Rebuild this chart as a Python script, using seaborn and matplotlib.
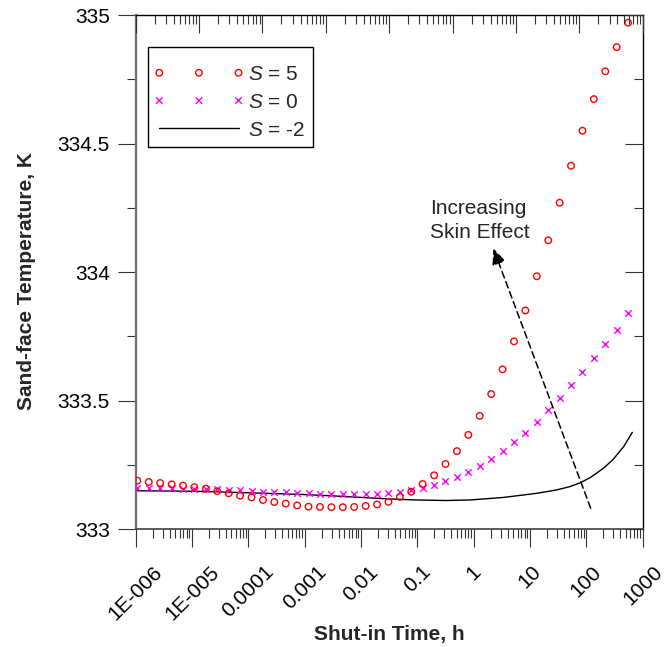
import matplotlib
matplotlib.use("Agg")
import matplotlib.pyplot as plt
import seaborn as sns
from matplotlib.ticker import LogLocator, MultipleLocator, NullFormatter
from matplotlib.collections import PathCollection
from matplotlib.lines import Line2D
from matplotlib.legend_handler import HandlerPathCollection, HandlerLine2D

# Shut-in times (h) at which the sand-face temperature was sampled
shut_in_time_h = [1.07e-6, 1.71e-6, 2.72e-6, 4.35e-6, 6.92e-6, 1.10e-5, 1.76e-5,
                  2.81e-5, 4.48e-5, 7.13e-5, 1.14e-4, 1.82e-4, 2.89e-4, 4.61e-4,
                  7.35e-4, 1.17e-3, 1.87e-3, 2.98e-3, 4.75e-3, 7.57e-3, 1.21e-2,
                  1.93e-2, 3.07e-2, 4.90e-2, 7.80e-2, 0.124, 0.199, 0.316, 0.505,
                  0.804, 1.28, 2.05, 3.26, 5.20, 8.28, 13.2, 21.1, 33.6, 53.5,
                  85.4, 136, 217, 346, 552]

# Sand-face temperature (K), skin factor S = 5
temp_skin_5 = [333.189, 333.184, 333.180, 333.175, 333.170, 333.164, 333.158,
               333.148, 333.140, 333.131, 333.124, 333.114, 333.106, 333.100,
               333.093, 333.088, 333.087, 333.086, 333.086, 333.087, 333.091,
               333.097, 333.107, 333.126, 333.146, 333.176, 333.210, 333.254,
               333.304, 333.367, 333.441, 333.526, 333.622, 333.731, 333.851,
               333.984, 334.124, 334.270, 334.414, 334.550, 334.673, 334.781,
               334.875, 334.970]

# Sand-face temperature (K), skin factor S = 0
temp_skin_0 = [333.162, 333.161, 333.160, 333.159, 333.158, 333.157, 333.156,
               333.155, 333.153, 333.151, 333.149, 333.147, 333.145, 333.144,
               333.142, 333.140, 333.139, 333.138, 333.137, 333.137, 333.137,
               333.138, 333.141, 333.146, 333.154, 333.161, 333.173, 333.187,
               333.203, 333.223, 333.246, 333.273, 333.303, 333.338, 333.376,
               333.417, 333.463, 333.510, 333.560, 333.612, 333.665, 333.720,
               333.776, 333.842]

# Sand-face temperature (K), skin factor S = -2 (continuous curve)
line_time_h = [1e-6, 1e-5, 2.5e-5, 1e-4, 8e-4, 3.2e-3, 1e-2, 3.2e-2, 0.1, 0.32,
               0.85, 3.4, 13.2, 29.5, 51, 78, 117, 200, 300, 458, 655]
temp_skin_m2 = [333.150, 333.148, 333.146, 333.142, 333.136, 333.130, 333.124,
                333.118, 333.114, 333.112, 333.114, 333.124, 333.140, 333.153,
                333.166, 333.181, 333.201, 333.237, 333.272, 333.321, 333.377]

series_labels = ["$S$ = 5", "$S$ = 0", "$S$ = -2"]

x_tick_values = [1e-6, 1e-5, 1e-4, 1e-3, 1e-2, 1e-1, 1, 10, 100, 1000]
x_tick_labels = ["1E-006", "1E-005", "0.0001", "0.001", "0.01", "0.1", "1",
                 "10", "100", "1000"]
y_tick_values = [333, 333.5, 334, 334.5, 335]
y_tick_labels = ["333", "333.5", "334", "334.5", "335"]

sns.set_theme(style="ticks")
plt.rcParams["font.family"] = ["Liberation Sans", "DejaVu Sans"]
plt.rcParams["mathtext.fontset"] = "custom"
plt.rcParams["mathtext.rm"] = "Liberation Sans"
plt.rcParams["mathtext.it"] = "Liberation Sans:italic"

FS = 15
MAJ, MIN = 12.7, 6.5

fig = plt.figure(figsize=(6.7, 6.47), dpi=100)
ax = fig.add_axes([0.2025, 0.1819, 0.7567, 0.7949])

sns.lineplot(x=line_time_h, y=temp_skin_m2, ax=ax, color="black", linewidth=1.0,
             errorbar=None, label=series_labels[2], zorder=2)
sns.scatterplot(x=shut_in_time_h, y=temp_skin_0, ax=ax, marker="x", s=22,
                color="#ff00ff", linewidth=1.0, label=series_labels[1], zorder=3)
sns.scatterplot(x=shut_in_time_h, y=temp_skin_5, ax=ax, marker="o", s=22,
                facecolors="none", edgecolor="#ff0000", linewidth=1.0,
                label=series_labels[0], zorder=4)

ax.set_xscale("log")
ax.set_xlim(1e-6, 1e3)
ax.set_ylim(333, 335)

ax.set_xticks(x_tick_values, x_tick_labels)
ax.xaxis.set_minor_locator(LogLocator(base=10, subs=range(2, 10), numticks=30))
ax.xaxis.set_minor_formatter(NullFormatter())
ax.set_yticks(y_tick_values, y_tick_labels)
ax.yaxis.set_minor_locator(MultipleLocator(0.25))

ax.tick_params(axis="x", which="major", direction="out", length=MAJ, width=0.8,
               labelsize=FS, labelrotation=45, pad=11, colors="#333333",
               labelcolor="black")
ax.tick_params(axis="y", which="major", direction="out", length=MAJ, width=0.8,
               labelsize=FS, pad=6, colors="#333333", labelcolor="black")
ax.tick_params(which="minor", direction="out", length=MIN, width=0.8,
               colors="#333333")
ax.tick_params(top=False, right=False, which="both")

for side, (col, lw) in {"left": ("#707070", 1.6), "bottom": ("#404040", 1.2),
                        "top": ("black", 1.0), "right": ("black", 1.0)}.items():
    ax.spines[side].set_color(col)
    ax.spines[side].set_linewidth(lw)

# inward ticks on the right-hand frame
ax_r = ax.twinx()
ax_r.set_ylim(333, 335)
ax_r.set_yticks(y_tick_values)
ax_r.yaxis.set_minor_locator(MultipleLocator(0.25))
ax_r.yaxis.set_major_formatter(NullFormatter())
ax_r.tick_params(which="major", direction="in", length=MAJ, width=0.8, colors="#333333")
ax_r.tick_params(which="minor", direction="in", length=MIN, width=0.8, colors="#333333")

# inward log ticks on the top frame
ax_t = ax.twiny()
ax_t.set_xscale("log")
ax_t.set_xlim(1, 1e8)
ax_t.xaxis.set_major_locator(LogLocator(base=10, numticks=20))
ax_t.xaxis.set_minor_locator(LogLocator(base=10, subs=range(2, 10), numticks=30))
ax_t.xaxis.set_major_formatter(NullFormatter())
ax_t.xaxis.set_minor_formatter(NullFormatter())
ax_t.tick_params(which="major", direction="in", length=MAJ, width=0.8, colors="#333333")
ax_t.tick_params(which="minor", direction="in", length=MIN, width=0.8, colors="#333333")
for a in (ax_r, ax_t):
    for s in a.spines.values():
        s.set_visible(False)

ax.set_xlabel("Shut-in Time, h", fontsize=FS, fontweight="bold")
ax.xaxis.label.set_va("baseline")
ax.xaxis.set_label_coords(0.5, -0.2152)
ax.set_ylabel("Sand-face Temperature, K", fontsize=FS, fontweight="bold")
ax.yaxis.label.set_va("baseline")
ax.yaxis.set_label_coords(-0.2045, 0.482)

# Direction of increasing skin
ax.annotate("", xy=(2.23, 334.093), xytext=(119.4, 333.082),
            arrowprops=dict(arrowstyle="-|>,head_length=0.7,head_width=0.3",
                            linestyle=(0, (4.4, 2.6)), linewidth=1.1,
                            color="black", shrinkA=0, shrinkB=0,
                            mutation_scale=14))
ax.text(0.171, 334.285, "Increasing\nSkin Effect", fontsize=FS, ha="left",
        va="top", linespacing=1.32)

handles, labels = ax.get_legend_handles_labels()
order = [labels.index(l) for l in series_labels]
leg = ax.legend([handles[i] for i in order], [labels[i] for i in order],
                handler_map={PathCollection: HandlerPathCollection(marker_pad=0.15),
                             Line2D: HandlerLine2D(marker_pad=0.15)},
                numpoints=3, scatterpoints=3, scatteryoffsets=[0.5],
                loc="upper left", bbox_to_anchor=(0.0249, 0.937),
                borderaxespad=0, fontsize=FS, handlelength=4.1,
                handletextpad=0.3, borderpad=0.38, labelspacing=0.42,
                frameon=True, fancybox=False, framealpha=1, edgecolor="black",
                title=" ", title_fontsize=1.5)
leg.get_frame().set_linewidth(1.0)

fig.savefig("out.png", dpi=100)
